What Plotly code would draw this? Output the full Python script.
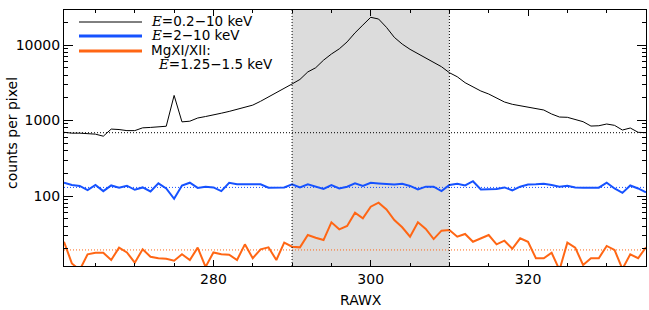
import plotly.graph_objects as go

rawx = list(range(261, 336))

counts_all = [698, 680, 680, 675, 660, 620, 770, 760, 735, 735,
              800, 810, 820, 840, 2150, 960, 980, 1080, 1130, 1180,
              1250, 1320, 1400, 1480, 1600, 1800, 2050, 2300, 2650, 3050,
              3500, 4400, 5000, 6300, 7600, 8900, 11000, 14500, 18400, 23300,
              22100, 17150, 12640, 10300, 8770, 7680, 6660, 5830, 5160, 4300,
              3800, 3170, 2800, 2460, 2245, 1970, 1760, 1640, 1570, 1510,
              1465, 1378, 1220, 1112, 1103, 1037, 965, 845, 853, 899,
              863, 748, 796, 698, 690]

counts_hard = [150, 140, 136, 120, 140, 116, 138, 129, 137, 121,
               130, 115, 147, 126, 92, 138, 150, 128, 133, 130,
               116, 150, 143, 143, 143, 143, 129, 129, 130, 143,
               130, 143, 133, 124, 140, 126, 133, 147, 136, 150,
               147, 145, 142, 145, 136, 122, 133, 133, 116, 140,
               145, 138, 157, 122, 122, 124, 130, 119, 133, 142,
               143, 145, 140, 133, 137, 130, 129, 129, 129, 150,
               126, 110, 138, 126, 112]

counts_mg = [24.8, 12.8, 10.5, 16.9, 17.7, 17.7, 14.2, 20.7, 17.9, 13.1,
             19.7, 15.7, 15.0, 14.8, 13.9, 16.9, 14.2, 20.7, 11.5, 17.9,
             16.9, 16.7, 14.2, 22.9, 15.0, 19.7, 20.9, 14.2, 24.1, 21.3,
             20.9, 30.4, 28.0, 26.1, 44.8, 36.2, 40.1, 60.1, 50.6, 72.2,
             81.6, 66.5, 48.1, 38.5, 28.9, 44.8, 36.6, 26.9, 34.8, 35.5,
             28.9, 31.4, 24.8, 27.5, 30.4, 22.9, 25.6, 20.0, 27.5, 24.8,
             15.0, 15.0, 17.7, 10.5, 24.1, 20.7, 12.2, 15.0, 15.0, 21.8,
             19.3, 10.8, 16.9, 15.0, 20.9]

level_all = 690
level_hard = 130
level_mg = 19.3
band = [290, 310]
x_range = [261, 335]
x_ticks = [280, 300, 320]
x_minor = [265, 270, 275, 285, 290, 295, 305, 310, 315, 325, 330, 335]
y_ticks = [100, 1000, 10000]
y_ticklabels = ["100", "1000", "10000"]
y_minor = [m * d for d in (10, 100, 1000) for m in range(2, 10)] + [20000]
x_title = "RAWX"
y_title = "counts per pixel"

names = ["E=0.2−10 keV", "E=2−10 keV", "MgXI/XII: E=1.25−1.5 keV"]
BLACK = "#000000"
BLUE = "#1652ff"
ORANGE = "#ff6614"
FONT = "DejaVu Sans"

fig = go.Figure()

# shaded band
fig.add_shape(type="rect", xref="x", yref="paper", x0=band[0], x1=band[1], y0=0, y1=1,
              fillcolor="#dcdcdc", line_width=0, layer="below")
for xb in band:
    fig.add_shape(type="line", xref="x", yref="paper", x0=xb, x1=xb, y0=0, y1=1,
                  line=dict(color=BLACK, width=1, dash="1px,2px"))

# reference levels
for lvl, col in [(level_all, BLACK), (level_hard, BLUE), (level_mg, ORANGE)]:
    fig.add_trace(go.Scatter(x=x_range, y=[lvl, lvl], mode="lines", showlegend=False,
                             line=dict(color=col, width=1, dash="1px,2px"), hoverinfo="skip"))

fig.add_trace(go.Scatter(x=rawx, y=counts_all, mode="lines", name=names[0],
                         line=dict(color=BLACK, width=1), showlegend=False))
fig.add_trace(go.Scatter(x=rawx, y=counts_hard, mode="lines", name=names[1],
                         line=dict(color=BLUE, width=2), showlegend=False))
fig.add_trace(go.Scatter(x=rawx, y=counts_mg, mode="lines", name=names[2],
                         line=dict(color=ORANGE, width=2), showlegend=False))

# manual legend (paper coordinates)
L, T, B, R = 64, 10, 266, 646
def px(x):
    return (x - L) / (R - L)
def py(y):
    return (B - y) / (B - T)

E = '<span style="font-family:DejaVu Serif"><i>E</i></span>'
leg = [(22, BLACK, 1, E + "=0.2−10 keV"),
       (36, BLUE, 3, E + "=2−10 keV"),
       (51, ORANGE, 3, "MgXI/XII:")]
for yy, col, w, txt in leg:
    fig.add_shape(type="line", xref="paper", yref="paper", x0=px(79), x1=px(142),
                  y0=py(yy), y1=py(yy), line=dict(color=col, width=w))
    fig.add_annotation(xref="paper", yref="paper", x=px(149), y=py(yy - 1), text=txt,
                       showarrow=False, xanchor="left", yanchor="middle",
                       font=dict(family=FONT, size=13.5, color=BLACK))
fig.add_annotation(xref="paper", yref="paper", x=px(156), y=py(64), text=E + "=1.25−1.5 keV",
                   showarrow=False, xanchor="left", yanchor="middle",
                   font=dict(family=FONT, size=13.5, color=BLACK))

# axis titles
fig.add_annotation(xref="paper", yref="paper", x=px(361), y=py(300), text=x_title,
                   showarrow=False, xanchor="center", yanchor="middle",
                   font=dict(family=FONT, size=14, color=BLACK))
fig.add_annotation(xref="paper", yref="paper", x=px(12), y=py(133), text=y_title,
                   showarrow=False, xanchor="center", yanchor="middle", textangle=-90,
                   font=dict(family=FONT, size=14, color=BLACK))

axis_common = dict(showline=True, linecolor=BLACK, linewidth=1, mirror="ticks",
                   ticks="inside", tickcolor=BLACK, showgrid=False, zeroline=False,
                   automargin=False,
                   tickfont=dict(family=FONT, size=14, color=BLACK))

fig.update_xaxes(range=x_range, tickmode="array", tickvals=x_ticks, ticklen=6,
                 minor=dict(tickvals=x_minor, ticks="inside", ticklen=3, tickcolor=BLACK),
                 **axis_common)
fig.update_yaxes(type="log", range=[1.073, 4.464], tickmode="array", tickvals=y_ticks,
                 ticktext=y_ticklabels, ticklen=9,
                 minor=dict(tickvals=y_minor, ticks="inside", ticklen=4, tickcolor=BLACK),
                 **axis_common)

fig.update_layout(width=649, height=310, margin=dict(l=64, r=3, t=10, b=44),
                  plot_bgcolor="white", paper_bgcolor="white",
                  font=dict(family=FONT, size=14, color=BLACK))

fig.write_html("out.html", config={"displayModeBar": False},
               post_script="document.body.style.margin='0';document.body.style.overflow='hidden';")
